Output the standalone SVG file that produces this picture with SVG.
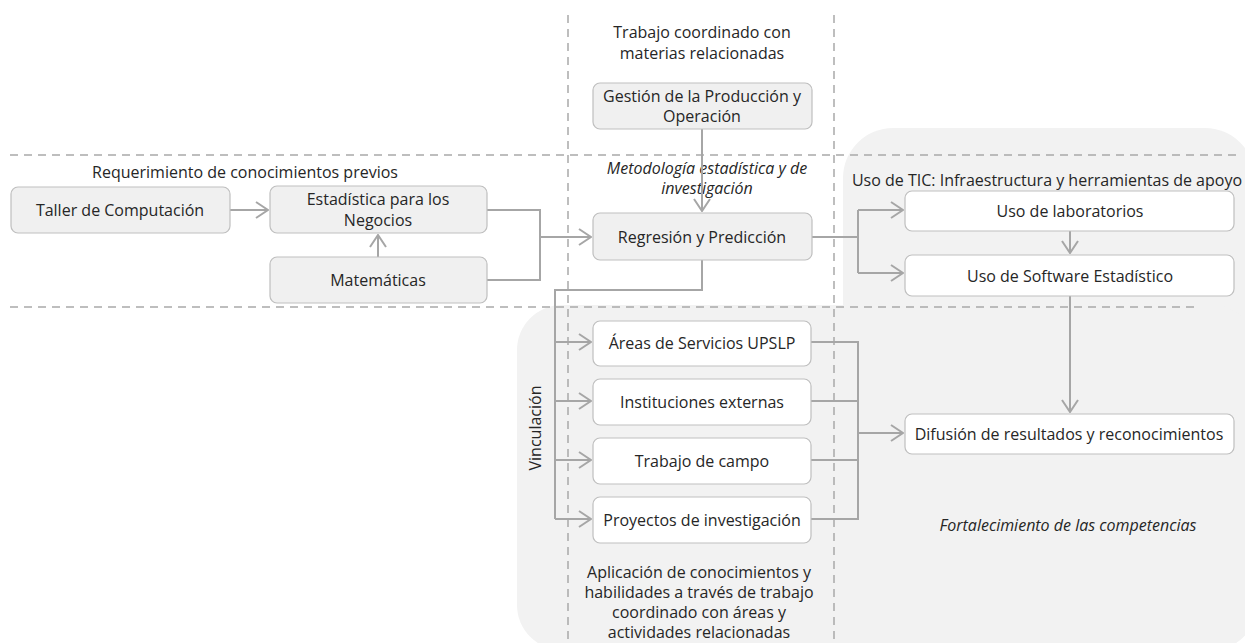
<svg xmlns="http://www.w3.org/2000/svg" width="1245" height="643" viewBox="0 0 1245 643">
<defs>
<style>
text{font-family:"Open Sans","Noto Sans","Liberation Sans",sans-serif;font-size:16px;fill:#262626;text-anchor:middle;dominant-baseline:central}
.it{font-style:italic}
.gbox{fill:#f0f0f0;stroke:#bfbfbf;stroke-width:1.2}
.wbox{fill:#ffffff;stroke:#bfbfbf;stroke-width:1.2}
.dash{fill:none;stroke:#a9a9a9;stroke-width:1.5;stroke-dasharray:8 6}
.con{fill:none;stroke:#a6a6a6;stroke-width:2}
.arr{fill:none;stroke:#a6a6a6;stroke-width:2;marker-end:url(#ah)}
</style>
<marker id="ah" markerUnits="userSpaceOnUse" markerWidth="14" markerHeight="18" viewBox="0 0 14 18" refX="13" refY="9" orient="auto">
<path d="M1,1 L13,9 L1,17" fill="none" stroke="#a6a6a6" stroke-width="2"/>
</marker>
</defs>
<rect width="1245" height="643" fill="#ffffff"/>
<g id="background">
<rect x="843" y="128" width="412" height="520" rx="50" fill="#f2f2f2"/>
<rect x="517" y="305" width="740" height="345" rx="45" fill="#f2f2f2"/>
</g>
<g id="guides">
<path class="dash" d="M10,155 H1236"/>
<path class="dash" d="M10,307 H1198"/>
<path class="dash" d="M568,15 V643"/>
<path class="dash" d="M834,15 V643"/>
</g>
<g id="labels">
<text x="245" y="172">Requerimiento de conocimientos previos</text>
<text x="702" y="32">Trabajo coordinado con</text>
<text x="702" y="53">materias relacionadas</text>
<text class="it" x="707" y="168">Metodología estadística y de</text>
<text class="it" x="707" y="188">investigación</text>
<text x="1047" y="180">Uso de TIC: Infraestructura y herramientas de apoyo</text>
<text x="535" y="428" transform="rotate(-90 535 428)">Vinculación</text>
<text x="699" y="572">Aplicación de conocimientos y</text>
<text x="699" y="592">habilidades a través de trabajo</text>
<text x="699" y="612">coordinado con áreas y</text>
<text x="699" y="632">actividades relacionadas</text>
<text class="it" x="1068" y="525">Fortalecimiento de las competencias</text>
</g>
<g id="connectors">
<path class="arr" d="M230,210 H268"/>
<path class="arr" d="M378,257 V235"/>
<path class="con" d="M487,210 H540 V280 H487"/>
<path class="arr" d="M540,237 H591"/>
<path class="arr" d="M702,129 V211"/>
<path class="con" d="M812,237 H858"/>
<path class="con" d="M858,210 V273"/>
<path class="arr" d="M858,210 H903"/>
<path class="arr" d="M858,273 H903"/>
<path class="arr" d="M1070,231 V253"/>
<path class="arr" d="M1070,296 V412"/>
<path class="con" d="M702,260 V290 H555 V519"/>
<path class="arr" d="M555,342 H591"/>
<path class="arr" d="M555,401 H591"/>
<path class="arr" d="M555,460 H591"/>
<path class="arr" d="M555,519 H591"/>
<path class="con" d="M811,342 H858 V519 H811"/>
<path class="con" d="M811,401 H858"/>
<path class="con" d="M811,460 H858"/>
<path class="arr" d="M858,433 H903"/>
</g>
<g id="n-taller"><rect class="gbox" x="11" y="187" width="219" height="46" rx="7"/><text x="120" y="210">Taller de Computación</text></g>
<g id="n-estadistica"><rect class="gbox" x="270" y="186" width="217" height="47" rx="7"/><text x="378" y="199">Estadística para los</text><text x="378" y="220">Negocios</text></g>
<g id="n-matematicas"><rect class="gbox" x="270" y="257" width="217" height="46" rx="7"/><text x="378" y="280">Matemáticas</text></g>
<g id="n-gestion"><rect class="gbox" x="593" y="83" width="219" height="46" rx="7"/><text x="702" y="96">Gestión de la Producción y</text><text x="702" y="116">Operación</text></g>
<g id="n-regresion"><rect class="gbox" x="593" y="213" width="219" height="47" rx="7"/><text x="702" y="237">Regresión y Predicción</text></g>
<g id="n-laboratorios"><rect class="wbox" x="905" y="191" width="329" height="40" rx="7"/><text x="1070" y="211">Uso de laboratorios</text></g>
<g id="n-software"><rect class="wbox" x="905" y="255" width="329" height="41" rx="7"/><text x="1070" y="276">Uso de Software Estadístico</text></g>
<g id="n-areas"><rect class="wbox" x="593" y="321" width="218" height="45" rx="7"/><text x="702" y="343">Áreas de Servicios UPSLP</text></g>
<g id="n-instituciones"><rect class="wbox" x="593" y="379" width="218" height="46" rx="7"/><text x="702" y="402">Instituciones externas</text></g>
<g id="n-campo"><rect class="wbox" x="593" y="438" width="218" height="46" rx="7"/><text x="702" y="461">Trabajo de campo</text></g>
<g id="n-proyectos"><rect class="wbox" x="593" y="497" width="218" height="46" rx="7"/><text x="702" y="520">Proyectos de investigación</text></g>
<g id="n-difusion"><rect class="wbox" x="905" y="414" width="329" height="40" rx="7"/><text x="1069" y="434">Difusión de resultados y reconocimientos</text></g>
</svg>
